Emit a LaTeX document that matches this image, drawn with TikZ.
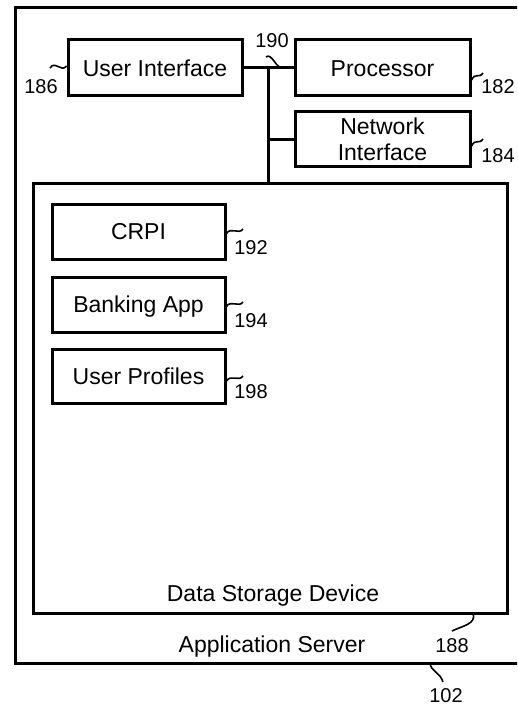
\documentclass[tikz,border=0pt]{standalone}
\usepackage{fontspec}
\setmainfont{Liberation Sans}
\begin{document}
\begin{tikzpicture}[x=1pt,y=-1pt,
  boxbase/.style={draw,line width=3pt,inner sep=0pt,font=\fontsize{23}{26}\selectfont},
  box/.style={boxbase,text height=16.4pt,text depth=0pt},
  lbl/.style={inner sep=0pt,text height=16.4pt,text depth=0pt,font=\fontsize{23}{26}\selectfont},
  num/.style={inner sep=0pt,text height=14.3pt,text depth=0pt,font=\fontsize{20}{24}\selectfont},
  lead/.style={line width=1.6pt},
  bus/.style={line width=3pt}]
\useasboundingbox (0,0) rectangle (517,706);
\begin{scope}
\clip (0,0) rectangle (517,706);
% application server enclosure (its right side runs off the sheet)
\node[draw,line width=3pt,minimum width=520pt,minimum height=655pt,inner sep=0pt] (srv) at (275,335.5) {};
\end{scope}

% top row
\node[box,minimum width=174pt,minimum height=56pt] (ui) at (155,68) {User Interface};
\node[box,minimum width=175pt,minimum height=56pt] (proc) at (382.5,68) {Processor};
\node[boxbase,minimum width=175pt,minimum height=54pt,align=center] (ni) at (382.5,139) {Network\\Interface};

% data storage device and its contents
\node[draw,line width=3pt,minimum width=474pt,minimum height=430pt,inner sep=0pt] (ds) at (270,398) {};
\node[box,minimum width=173pt,minimum height=55pt] (crpi) at (138.5,231.5) {CRPI};
\node[box,minimum width=173pt,minimum height=55pt] (bank) at (138.5,304.5) {Banking App};
\node[box,minimum width=173pt,minimum height=54pt] (prof) at (138.5,376) {User Profiles};
\node[lbl] (dsl) at (273,593) {Data Storage Device};
\node[lbl] (srvl) at (272,644.5) {Application Server};

% bus
\draw[bus] (ui.east) -- (proc.west) coordinate[pos=0.49] (bj);
\draw[bus] (bj) -- (bj |- ds.north);
\draw[bus] (bj |- ni.west) -- (ni.west);

% reference numerals
\node[num] (n190) at (272,40) {190};
\node[num] (n186) at (41,86) {186};
\node[num] (n182) at (498,86) {182};
\node[num] (n184) at (498,155) {184};
\node[num] (n192) at (251,247) {192};
\node[num] (n194) at (251,320) {194};
\node[num] (n198) at (251,391) {198};
\node[num] (n188) at (452,645) {188};
\node[num] (n102) at (446,695) {102};

% leader lines
\draw[lead] (50,68) .. controls +(5,-8) and +(-5,7) .. ([yshift=2pt]ui.west);
\draw[lead] (266,57) .. controls (272,52) and (276,70) .. (284,68);
\draw[lead] ([yshift=-12pt]proc.east) .. controls +(4,-8) and +(-4,6) .. (483,73);
\draw[lead] ([yshift=-7pt]ni.east) .. controls +(4,-8) and +(-4,6) .. (483,139);
\draw[lead] ([yshift=-2pt]crpi.east) .. controls +(4,-7) and +(-4,6) .. (243,229);
\draw[lead] ([yshift=-2pt]bank.east) .. controls +(4,-7) and +(-4,6) .. (243,302);
\draw[lead] ([yshift=-5pt]prof.east) .. controls +(4,-7) and +(-4,6) .. (243,376);
\draw[lead] (473,613) .. controls (477,624) and (462,626) .. (452,631);
\draw[lead] (430,663) .. controls (431,672) and (440,672) .. (443,682);
\end{tikzpicture}
\end{document}
